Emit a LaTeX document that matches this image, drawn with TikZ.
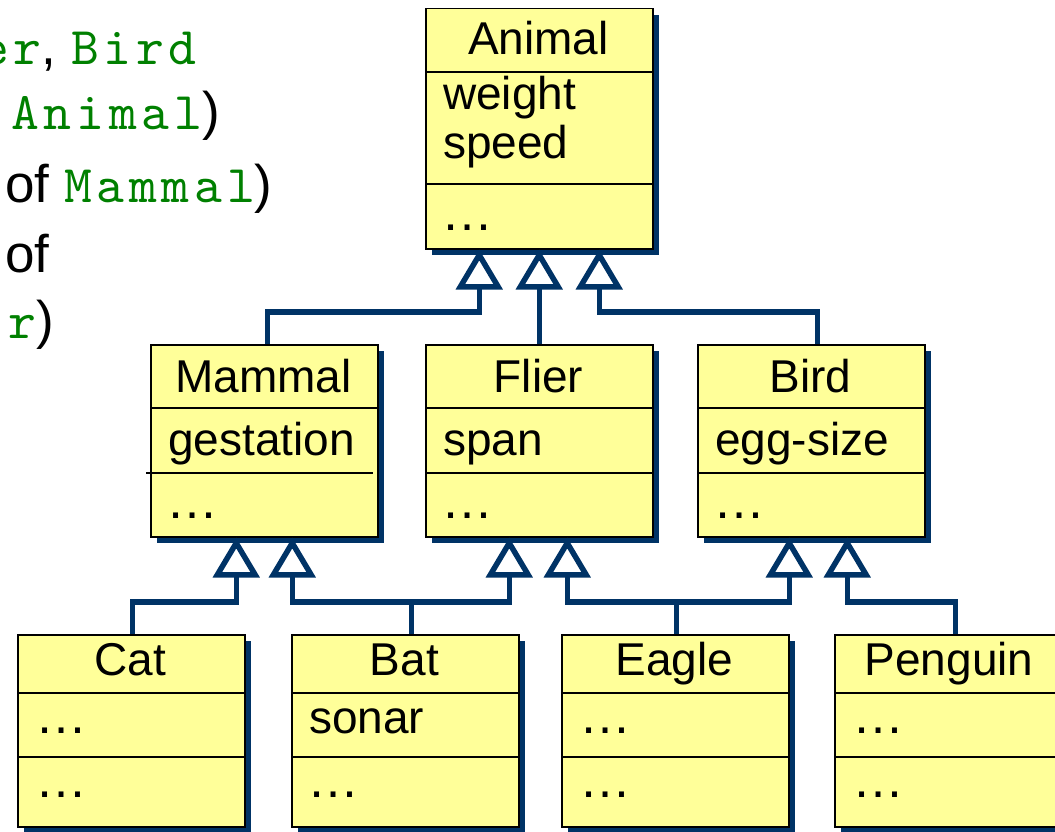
\documentclass[tikz,border=0pt]{standalone}
\usepackage{fontspec}
\setmainfont{Liberation Sans}
\newfontfamily\codefont{lmmono10-regular.otf}[LetterSpace=9]
\usetikzlibrary{arrows.meta,shadows}
\definecolor{clsfill}{RGB}{255,255,153}
\definecolor{linkblue}{RGB}{0,51,102}
\definecolor{codegreen}{RGB}{0,128,0}
\newcommand\code[1]{\textcolor{codegreen}{\codefont #1}}

\begin{document}
\begin{tikzpicture}[x=1pt,y=-1pt,
  cls/.style={draw=black, line width=1.5pt, fill=clsfill, inner sep=0pt,
    general shadow={fill=linkblue, shadow xshift=6pt, shadow yshift=-6pt},
    minimum width=227pt, anchor=north west},
  divider/.style={draw=black, line width=1.5pt},
  txt/.style={font=\fontsize{46}{50}\selectfont, inner sep=0pt, anchor=base west},
  ttl/.style={txt, anchor=base},
  dots/.style={txt, font=\fontsize{52}{56}\selectfont},
  side/.style={font=\fontsize{53}{60}\selectfont, inner sep=0pt},
  inh/.style={draw=linkblue, line width=5.5pt,
    -{Triangle[open, length=40pt, width=46pt]}}]
  \useasboundingbox (0,0) rectangle (1055,832);

  % text cut off at the left
  \node[side, anchor=base east] (line1) at (197,65) {\code{er}, \code{Bird}};
  \node[side, anchor=base east] (line2) at (220,130) {\code{Animal})};
  \node[side, anchor=base west] (line3) at (5,202) {of \code{Mammal})};
  \node[side, anchor=base west] (line4) at (5,272) {of};
  \node[side, anchor=base east] (line5) at (54,338) {\code{er})};

  % class boxes
  \node[cls, minimum height=240pt] (animal) at (425,8) {};
  \node[cls, minimum height=192pt] (mammal) at (150,344) {};
  \node[cls, minimum height=192pt] (flier) at (425,344) {};
  \node[cls, minimum height=192pt] (bird) at (697,344) {};
  \node[cls, minimum height=192pt] (cat) at (17,634) {};
  \node[cls, minimum height=192pt] (bat) at (291,634) {};
  \node[cls, minimum height=192pt] (eagle) at (561,634) {};
  \node[cls, minimum height=192pt] (penguin) at (834,634) {};

  \foreach \n/\ya/\yb in {animal/72/184, flier/408/473, bird/408/473,
      cat/693/757, bat/693/757, eagle/693/757, penguin/693/757}
    \draw[divider] (\n.west |- 0,\ya) -- (\n.east |- 0,\ya)
                   (\n.west |- 0,\yb) -- (\n.east |- 0,\yb);
  \draw[divider] (mammal.west |- 0,408) -- (mammal.east |- 0,408);
  \draw[divider] (146,473) -- (373,473);

  \node[ttl] (animal-name) at (538.5,55) {Animal};
  \node[txt] (animal-a1) at (443,110) {weight};
  \node[txt] (animal-a2) at (443,159) {speed};
  \node[dots] (animal-op) at (441,230) {…};

  \node[ttl] (mammal-name) at (263.5,392) {Mammal};
  \node[txt] (mammal-a1) at (168,455) {gestation};
  \node[dots] (mammal-op) at (166,518) {…};

  \node[ttl] (flier-name) at (538.5,392) {Flier};
  \node[txt] (flier-a1) at (443,455) {span};
  \node[dots] (flier-op) at (441,518) {…};

  \node[ttl] (bird-name) at (810.5,392) {Bird};
  \node[txt] (bird-a1) at (715,455) {egg-size};
  \node[dots] (bird-op) at (713,518) {…};

  \node[ttl] (cat-name) at (130.5,675) {Cat};
  \node[dots] (cat-a1) at (35,733) {…};
  \node[dots] (cat-op) at (35,797) {…};

  \node[ttl] (bat-name) at (404.5,675) {Bat};
  \node[txt] (bat-a1) at (309,733) {sonar};
  \node[dots] (bat-op) at (307,797) {…};

  \node[ttl] (eagle-name) at (674.5,675) {Eagle};
  \node[dots] (eagle-a1) at (579,733) {…};
  \node[dots] (eagle-op) at (579,797) {…};

  \node[ttl] (penguin-name) at (949,675) {Penguin};
  \node[dots] (penguin-a1) at (852,733) {…};
  \node[dots] (penguin-op) at (852,797) {…};

  % inheritance
  \draw[inh] ([xshift=3pt]mammal.north) -- ++(0,-32) -| ([xshift=-60pt]animal.south);
  \draw[inh] (flier.north) -- (animal.south);
  \draw[inh] ([xshift=6pt]bird.north) -- ++(0,-32) -| ([xshift=60pt]animal.south);

  \draw[inh] ([xshift=1pt]cat.north) -- ++(0,-32) -| ([xshift=-28pt]mammal.south);
  \draw[inh] ([xshift=6pt]bat.north) -- ++(0,-32) -| ([xshift=28pt]mammal.south);
  \draw[inh] ([xshift=6pt]bat.north) -- ++(0,-32) -| ([xshift=-30pt]flier.south);
  \draw[inh] ([xshift=1pt]eagle.north) -- ++(0,-32) -| ([xshift=28pt]flier.south);
  \draw[inh] ([xshift=1pt]eagle.north) -- ++(0,-32) -| ([xshift=-22pt]bird.south);
  \draw[inh] ([xshift=7pt]penguin.north) -- ++(0,-32) -| ([xshift=36pt]bird.south);
\end{tikzpicture}
\end{document}
